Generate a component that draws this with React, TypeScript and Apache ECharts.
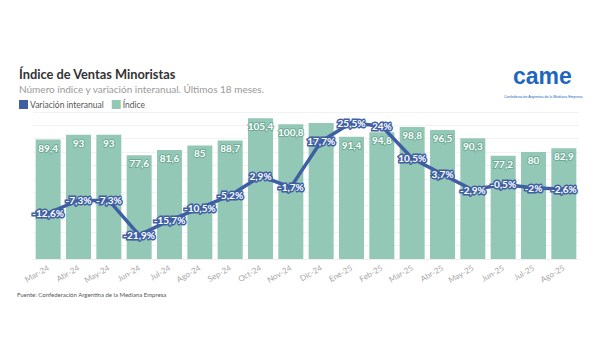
import React, { useEffect, useRef } from "react";
import * as echarts from "echarts";

const categories = ["Mar-24", "Abr-24", "May-24", "Jun-24", "Jul-24", "Ago-24", "Sep-24", "Oct-24", "Nov-24", "Dic-24", "Ene-25", "Feb-25", "Mar-25", "Abr-25", "May-25", "Jun-25", "Jul-25", "Ago-25"];
const indice = [89.4, 93, 93, 77.6, 81.6, 85, 88.7, 105.4, 100.8, 101.7, 91.4, 94.8, 98.8, 96.5, 90.3, 77.2, 80, 82.9];
const indiceLabelShown = [true, true, true, true, true, true, true, true, true, false, true, true, true, true, true, true, true, true];
const variacion = [-12.6, -7.3, -7.3, -21.9, -15.7, -10.5, -5.2, 2.9, -1.7, 17.7, 25.5, 24, 10.5, 3.7, -2.9, -0.5, -2, -2.6];

const BLUE = "#3f5fa3";
const GREEN = "#94c8b6";
const FONT = "Lato, 'Noto Sans', sans-serif";

const fmt = (v: number) => String(v).replace(".", ",");

export default function App() {
  const ref = useRef<HTMLDivElement>(null);
  useEffect(() => {
    const chart = echarts.init(ref.current!, null, { renderer: "svg" });
    chart.setOption({
      animation: false,
      backgroundColor: "#ffffff",
      textStyle: { fontFamily: FONT },
      title: {
        text: "Índice de Ventas Minoristas",
        subtext: "Número índice y variación interanual. Últimos 18 meses.",
        left: 14,
        top: 62,
        itemGap: 4,
        textStyle: { fontSize: 12.8, fontWeight: "bold", color: "#333", fontFamily: FONT },
        subtextStyle: { fontSize: 10, color: "#9a9a9a", fontFamily: FONT },
      },
      legend: {
        left: 14,
        top: 95,
        itemWidth: 9,
        itemHeight: 9,
        itemGap: 8,
        icon: "rect",
        textStyle: { fontSize: 8.5, color: "#555", padding: [0, 0, 0, -3], fontFamily: FONT },
        data: ["Variación interanual", "Índice"],
      },
      graphic: [
        {
          type: "text",
          left: 513,
          top: 64,
          style: { text: "came", font: "bold 23px 'Liberation Sans', Arial, sans-serif", fill: "#1f66bd" },
        },
        {
          type: "text",
          left: 504,
          top: 95,
          style: { text: "Confederación Argentina de la Mediana Empresa", font: "3.6px 'Liberation Sans', sans-serif", fill: "#1f66bd" },
        },
        {
          type: "text",
          left: 17,
          top: 291,
          style: { text: "Fuente: Confederación Argentina de la Mediana Empresa", font: `6px ${FONT}`, fill: "#555" },
        },
      ],
      grid: { left: 33, right: 21, top: 112, bottom: 101 },
      xAxis: {
        type: "category",
        data: categories,
        axisTick: { show: false },
        axisLine: { lineStyle: { color: "#eeeeee" } },
        axisLabel: { rotate: 30, fontSize: 8, color: "#a8a8a8", margin: 8, fontFamily: FONT },
      },
      yAxis: [
        {
          type: "value",
          min: 0,
          max: 110,
          interval: 10,
          axisLabel: { show: false },
          axisLine: { show: false },
          axisTick: { show: false },
          splitLine: { lineStyle: { color: "#f2f2f2" } },
        },
        {
          type: "value",
          min: -32,
          max: 30,
          axisLabel: { show: false },
          axisLine: { show: false },
          axisTick: { show: false },
          splitLine: { show: false },
        },
      ],
      series: [
        {
          name: "Índice",
          type: "bar",
          yAxisIndex: 0,
          barWidth: 25,
          itemStyle: { color: GREEN },
          data: indice.map((v, i) => ({ value: v, label: { show: indiceLabelShown[i] } })),
          label: {
            show: true,
            position: "insideTop",
            distance: 3,
            color: "#ffffff",
            fontSize: 10,
            fontWeight: "bold",
            textBorderColor: "#6fab96",
            textBorderWidth: 2,
            formatter: (p: any) => fmt(p.value),
            fontFamily: FONT,
          },
          z: 1,
        },
        {
          name: "Variación interanual",
          type: "line",
          yAxisIndex: 1,
          data: variacion,
          symbol: "circle",
          symbolSize: 4,
          itemStyle: { color: BLUE },
          lineStyle: { color: BLUE, width: 3.5 },
          label: {
            show: true,
            position: "inside",
            color: "#ffffff",
            fontSize: 10,
            fontWeight: "bold",
            textBorderColor: BLUE,
            textBorderWidth: 3,
            formatter: (p: any) => fmt(p.value) + "%",
            fontFamily: FONT,
          },
          labelLayout: { hideOverlap: false },
          z: 3,
        },
      ],
    });
    return () => chart.dispose();
  }, []);
  return <div ref={ref} style={{ position: "fixed", left: 0, top: 0, width: 600, height: 360 }} />;
}
